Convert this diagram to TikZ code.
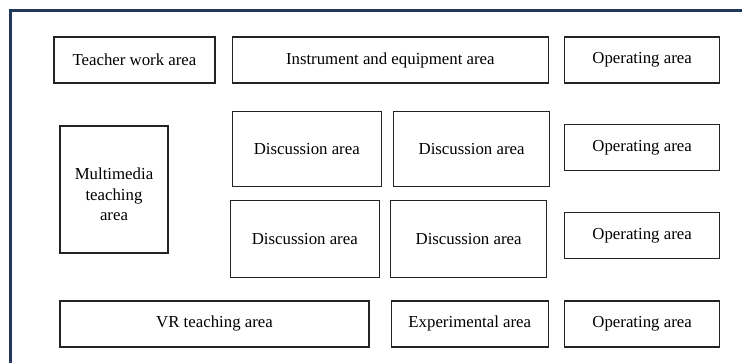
\documentclass[tikz,border=0pt]{standalone}
\usepackage{fontspec}
\setmainfont{Liberation Serif}
\usepackage{tikz}
\usetikzlibrary{positioning}
\definecolor{framenavy}{RGB}{32,56,90}
\definecolor{boxline}{RGB}{35,35,35}

\begin{document}
\begin{tikzpicture}[x=1pt,y=-1pt,node distance=15pt,
                    line width=1.3pt]
  \tikzstyle{area}=[draw=boxline,fill=none,text=black,inner sep=2pt,
                    minimum height=46pt,
                    font=\fontsize{16.8}{20.5}\selectfont]

  \useasboundingbox (0,0) rectangle (742,362);
  \begin{scope}
    \clip (0,0) rectangle (742,362);
    \draw[framenavy,line width=3pt] (10,10.5) rectangle (770,390);
  \end{scope}

  \node[area,minimum width=161pt] (teacher) at (134.5,60) {Teacher\ work area};
  \node[area,minimum width=316pt] (instr)   [right=16pt of teacher] {Instrument and equipment area};
  \node[area,minimum width=155pt] (op1)     [right=15pt of instr]   {Operating area};
  \node[area,minimum width=155pt] (op2)     [below=40pt of op1]     {Operating area};
  \node[area,minimum width=155pt] (op3)     [below=41pt of op2]     {Operating area};
  \node[area,minimum width=155pt] (op4)     [below=41pt of op3]     {Operating area};
  \node[area,minimum width=157pt] (exper)   [left=15pt of op4]      {Experimental area};
  \node[area,minimum width=309pt] (vr)      [left=21pt of exper]    {VR teaching area};

  \node[area,minimum width=149pt,minimum height=75pt] (disc1)
       [below=27pt of instr.south west,anchor=north west]         {Discussion area};
  \node[area,minimum width=156pt,minimum height=75pt] (disc2)
       [right=11pt of disc1]                                        {Discussion area};
  \node[area,minimum width=149pt,minimum height=77pt] (disc3)
       [below=13pt of disc1,xshift=-2pt]                            {Discussion area};
  \node[area,minimum width=156pt,minimum height=77pt] (disc4)
       [right=10pt of disc3]                                        {Discussion area};

  \node[area,minimum width=108pt,minimum height=127pt,align=center] (media)
       at (114,189.5) {\rule{0pt}{22pt}Multimedia\\teaching\\area};
\end{tikzpicture}
\end{document}
